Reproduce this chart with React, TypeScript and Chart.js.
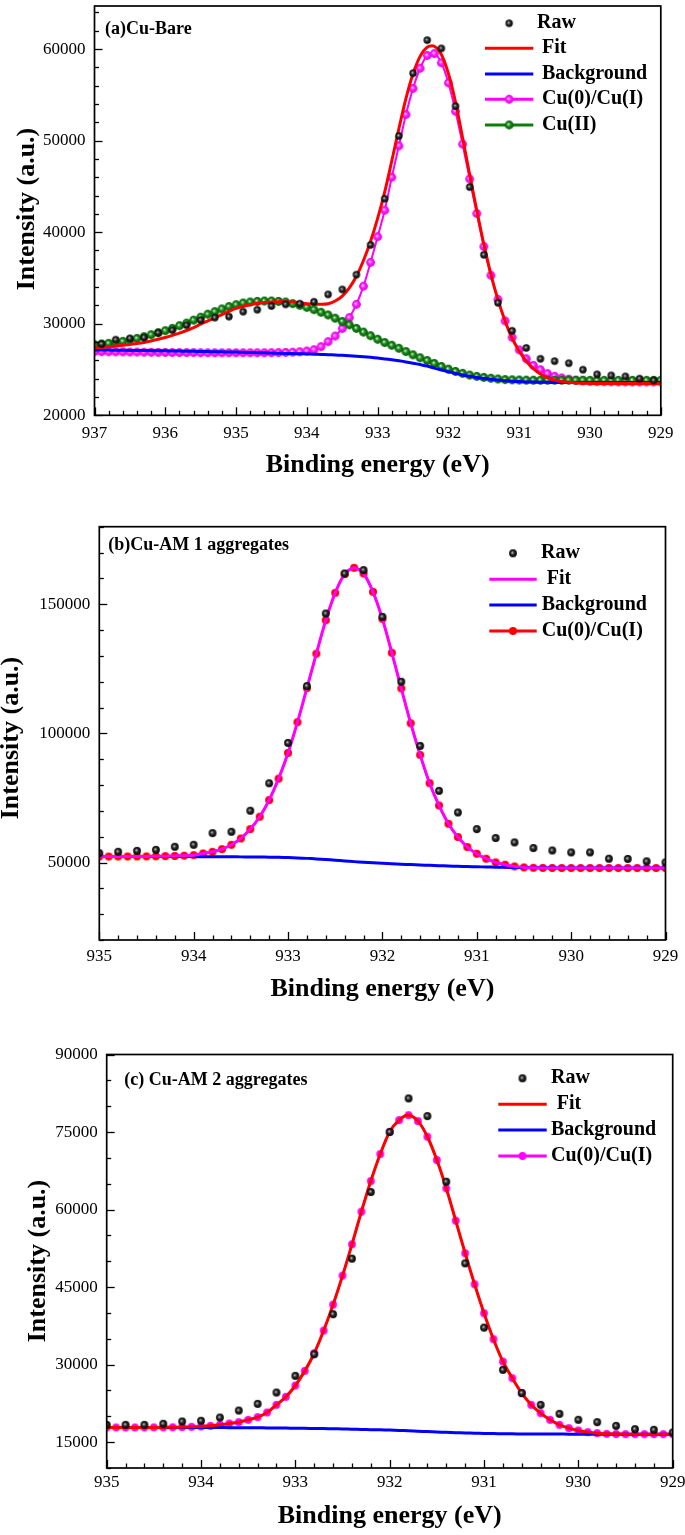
import React, { useEffect, useRef } from 'react';
import { Chart, registerables } from 'chart.js';
Chart.register(...registerables);

const SERIF = '"Times New Roman", "Liberation Serif", serif';
const W = 685;

// ---------------- (a) Cu-Bare ----------------
// fitted curves sampled every 0.1 eV from 937.0 down to 929.0
const curveStartA = 937.0;
// raw data every 0.2 eV from 936.9 down to 929.1
const rawStartA = 936.9;
const rawA = [27790, 28260, 28400, 28500, 29010, 29300, 29840, 30390, 30670, 30780,
  31320, 31530, 31930, 32120, 32190, 32400, 33200, 33740, 35360, 38610,
  43650, 50510, 57360, 60970, 60070, 53760, 44920, 37530, 32290, 29230,
  27360, 26170, 25910, 25690, 24980, 24470, 24360, 24250, 24000, 23820];
const fitA = [27360, 27420, 27490, 27560, 27640, 27720, 27830, 27960, 28120, 28300,
  28500, 28730, 28980, 29260, 29580, 29950, 30300, 30650, 31000, 31350,
  31680, 31900, 32080, 32230, 32310, 32370, 32400, 32390, 32370, 32290,
  32190, 32130, 32120, 32190, 32480, 33020, 33920, 35180, 36900, 39000,
  41500, 44400, 47800, 51300, 54600, 57300, 59200, 60200, 60300, 59400,
  57300, 54200, 50300, 46300, 42400, 38700, 35400, 32600, 30300, 28400,
  27000, 25900, 25100, 24500, 24100, 23850, 23700, 23600, 23540, 23510,
  23490, 23480, 23480, 23470, 23470, 23460, 23460, 23460, 23460, 23460,
  23460];
const backgroundA = [27140, 27130, 27120, 27110, 27100, 27090, 27080, 27070, 27060, 27050,
  27040, 27030, 27010, 27000, 26990, 26970, 26960, 26940, 26930, 26910,
  26900, 26880, 26860, 26840, 26820, 26800, 26780, 26760, 26740, 26720,
  26700, 26680, 26650, 26620, 26590, 26550, 26510, 26460, 26400, 26330,
  26250, 26160, 26060, 25950, 25830, 25690, 25540, 25380, 25150, 24950,
  24760, 24580, 24410, 24260, 24130, 24020, 23930, 23850, 23780, 23720,
  23680, 23650, 23630, 23610, 23600, 23590, 23580, 23580, 23580, 23580,
  23580, 23580, 23580, 23580, 23580, 23580, 23580, 23580, 23580, 23580,
  23580];
const cu0A = [26960, 26950, 26940, 26930, 26920, 26910, 26900, 26890, 26880, 26870,
  26860, 26850, 26850, 26840, 26840, 26830, 26830, 26820, 26820, 26820,
  26820, 26820, 26820, 26820, 26820, 26830, 26840, 26860, 26890, 26940,
  27020, 27160, 27500, 28040, 28660, 29480, 30670, 32120, 34100, 36700,
  39500, 42400, 46000, 49430, 52850, 55700, 57900, 59300, 59500, 58500,
  56300, 53200, 49610, 45820, 42040, 38430, 35290, 32660, 30310, 28510,
  27140, 26170, 25450, 24980, 24550, 24260, 24080, 23940, 23820, 23750,
  23700, 23680, 23670, 23660, 23650, 23650, 23640, 23640, 23640, 23640,
  23640];
const cu2A = [27715, 27790, 27860, 27970, 28080, 28220, 28400, 28580, 28800, 29020,
  29240, 29490, 29780, 30060, 30390, 30710, 31040, 31320, 31610, 31870,
  32080, 32260, 32370, 32440, 32480, 32480, 32440, 32370, 32190, 32010,
  31790, 31540, 31250, 30960, 30600, 30240, 29880, 29490, 29090, 28690,
  28300, 27950, 27650, 27320, 26960, 26600, 26280, 25980, 25660, 25330,
  25040, 24790, 24580, 24390, 24250, 24140, 24040, 23960, 23900, 23870,
  23850, 23840, 23830, 23830, 23830, 23830, 23830, 23830, 23830, 23830,
  23820, 23820, 23820, 23820, 23820, 23820, 23820, 23820, 23820, 23820,
  23820];
const xTicksA = [937, 936, 935, 934, 933, 932, 931, 930, 929];
const yTicksA = [20000, 30000, 40000, 50000, 60000];

// ---------------- (b) Cu-AM 1 aggregates ----------------
const curveStartB = 935.0; // 0.1 eV grid
const rawStartB = 935.0;   // 0.2 eV grid
const rawB = [53620, 54140, 54520, 54910, 56080, 56850, 61380, 61900, 70050, 80660,
  96310, 118300, 146380, 161900, 163200, 145100, 119980, 95130, 77740, 69370,
  62940, 59470, 57770, 55600, 54670, 53900, 53900, 51470, 51400, 50440, 50040];
const cu0B = [52325, 52325, 52330, 52340, 52350, 52370, 52400, 52450, 52530, 52650,
  52840, 53490, 54140, 55170, 56850, 59310, 62930, 67720, 74190, 82470,
  92430, 104330, 117530, 130850, 143790, 154400, 161640, 164100, 161900, 154790,
  144310, 131180, 117410, 103900, 91650, 80720, 72080, 65000, 59850, 55990,
  53400, 51470, 50040, 49150, 48500, 48100, 47950, 47900, 47880, 47870,
  47870, 47870, 47870, 47870, 47870, 47870, 47870, 47870, 47870, 47870,
  47870];
const fitB = cu0B; // single-component fit coincides with the component
const backgroundB = [52330, 52330, 52330, 52330, 52320, 52320, 52310, 52310, 52300, 52290,
  52280, 52270, 52250, 52230, 52210, 52180, 52150, 52110, 52060, 51990,
  51900, 51780, 51600, 51400, 51150, 50900, 50620, 50340, 50080, 49880,
  49700, 49520, 49350, 49190, 49040, 48900, 48770, 48650, 48540, 48440,
  48350, 48270, 48200, 48140, 48090, 48040, 48000, 47960, 47930, 47910,
  47890, 47880, 47870, 47870, 47870, 47870, 47870, 47870, 47870, 47870,
  47870];
const xTicksB = [935, 934, 933, 932, 931, 930, 929];
const yTicksB = [50000, 100000, 150000];

// ---------------- (c) Cu-AM 2 aggregates ----------------
const curveStartC = 935.0;
const rawStartC = 935.0;
const rawC = [18350, 18350, 18350, 18550, 19000, 19130, 19770, 21120, 22410, 24600,
  27830, 32000, 39750, 50500, 63390, 75000, 81500, 78080, 65390, 49600,
  37170, 28990, 24500, 22220, 20480, 19330, 18870, 18160, 17520, 17400, 16870];
const cu0C = [17840, 17840, 17840, 17840, 17840, 17850, 17860, 17880, 17910, 17960,
  18030, 18160, 18350, 18610, 18870, 19320, 19840, 20740, 22220, 23770,
  25960, 28790, 32200, 36590, 41610, 47220, 53270, 59590, 65520, 70740,
  75050, 77310, 78270, 77110, 74090, 69580, 64100, 57850, 51540, 45540,
  39940, 34910, 30600, 27370, 24470, 22220, 20610, 19320, 18350, 17710,
  17260, 16940, 16740, 16610, 16570, 16550, 16550, 16550, 16550, 16550,
  16550];
const fitC = cu0C;
const backgroundC = [17840, 17840, 17840, 17840, 17840, 17840, 17840, 17840, 17840, 17830,
  17830, 17820, 17820, 17810, 17800, 17790, 17780, 17760, 17740, 17720,
  17700, 17680, 17650, 17620, 17590, 17550, 17510, 17470, 17420, 17380,
  17340, 17270, 17200, 17120, 17040, 16970, 16900, 16840, 16780, 16730,
  16690, 16660, 16630, 16610, 16590, 16580, 16570, 16560, 16560, 16550,
  16550, 16550, 16550, 16550, 16550, 16550, 16550, 16550, 16550, 16550,
  16550];
const xTicksC = [935, 934, 933, 932, 931, 930, 929];
const yTicksC = [15000, 30000, 45000, 60000, 75000, 90000];

// ---------------- helpers ----------------
const pts = (start: number, step: number, vals: number[]) =>
  vals.map((v, i) => ({ x: +(start - i * step).toFixed(2), y: v }));

function makeBall(r: number, light: string, mid: string, dark: string) {
  const s = Math.ceil(r * 2) + 2;
  const c = document.createElement('canvas');
  c.width = s; c.height = s;
  const g = c.getContext('2d')!;
  const cx = s / 2, cy = s / 2;
  const grad = g.createRadialGradient(cx - r * 0.2, cy - r * 0.2, r * 0.05, cx, cy, r);
  grad.addColorStop(0, light);
  grad.addColorStop(0.4, mid);
  grad.addColorStop(1, dark);
  g.fillStyle = grad;
  g.beginPath(); g.arc(cx, cy, r, 0, Math.PI * 2); g.fill();
  return c;
}
function makeDot(r: number, color: string) {
  const s = Math.ceil(r * 2) + 2;
  const c = document.createElement('canvas');
  c.width = s; c.height = s;
  const g = c.getContext('2d')!;
  g.fillStyle = color;
  g.beginPath(); g.arc(s / 2, s / 2, r, 0, Math.PI * 2); g.fill();
  return c;
}

const RED = '#ff0000', BLUE = '#0000ff', MAGENTA = '#ff00ff', GREEN = '#0a800a';

type LegendItem = { text: string; tx: number; kind: 'point' | 'line' | 'linepoint'; color?: string; sprite?: HTMLCanvasElement };

function buildPanels() {
  const blackA = makeBall(3.7, '#c8c8c8', '#303030', '#000');
  const pinkA = makeBall(4.4, '#ffd8ff', '#ff22ff', '#e000e0');
  const greenA = makeBall(4.4, '#d8f2d8', '#1e8c1e', '#005a00');
  const blackB = makeBall(3.9, '#c8c8c8', '#303030', '#000');
  const redB = makeDot(4.0, RED);
  const magC = makeDot(3.9, MAGENTA);

  const line = (label: string, data: any[], color: string, order: number) => ({
    label, data, showLine: true, borderColor: color, backgroundColor: color,
    borderWidth: 3, pointRadius: 0, tension: 0.3, order,
  });
  const beads = (label: string, data: any[], color: string, sprite: HTMLCanvasElement, order: number) => ({
    label, data, showLine: true, borderColor: color, backgroundColor: color,
    borderWidth: 2, pointStyle: sprite, pointRadius: 4, tension: 0.3, order,
  });
  const dots = (label: string, data: any[], sprite: HTMLCanvasElement, order: number) => ({
    label, data, showLine: false, pointStyle: sprite, pointRadius: 3.8, order,
    borderColor: '#000', backgroundColor: '#000',
  });

  return [
    {
      top: 0, height: 500,
      area: { left: 94.5, right: 660.8, top: 2.7, bottom: 415.3 },
      xMin: 929, xMax: 937, yMin: 20000, yMax: 64700,
      xTicks: xTicksA, yTicks: yTicksA, yMinor: 2000, xLabelPad: 7.8,
      datasets: [
        dots('Raw', pts(rawStartA, 0.2, rawA), blackA, 0),
        line('Fit', pts(curveStartA, 0.1, fitA), RED, 1),
        line('Background', pts(curveStartA, 0.1, backgroundA), BLUE, 2),
        beads('Cu(II)', pts(curveStartA, 0.1, cu2A), GREEN, greenA, 3),
        beads('Cu(0)/Cu(I)', pts(curveStartA, 0.1, cu0A), MAGENTA, pinkA, 4),
      ],
      label: { text: '(a)Cu-Bare', x: 105, y: 29 },
      legend: {
        rows: [23.3, 48.3, 74, 99.3, 125], x0: 485, x1: 533.3,
        items: [
          { text: 'Raw', tx: 537, kind: 'point', sprite: blackA },
          { text: 'Fit', tx: 542, kind: 'line', color: RED },
          { text: 'Background', tx: 542, kind: 'line', color: BLUE },
          { text: 'Cu(0)/Cu(I)', tx: 542, kind: 'linepoint', color: MAGENTA, sprite: pinkA },
          { text: 'Cu(II)', tx: 542, kind: 'linepoint', color: GREEN, sprite: greenA },
        ] as LegendItem[],
      },
      xTitleY: 465.5, yTitleX: 27, yTitleY: 209,
    },
    {
      top: 500, height: 510,
      area: { left: 99.3, right: 665.5, top: 26.7, bottom: 440 },
      xMin: 929, xMax: 935, yMin: 20000, yMax: 180000,
      xTicks: xTicksB, yTicks: yTicksB, yMinor: 10000, xLabelPad: 6.8,
      datasets: [
        dots('Raw', pts(rawStartB, 0.2, rawB), blackB, 0),
        line('Fit', pts(curveStartB, 0.1, fitB), MAGENTA, 1),
        line('Background', pts(curveStartB, 0.1, backgroundB), BLUE, 2),
        beads('Cu(0)/Cu(I)', pts(curveStartB, 0.1, cu0B), RED, redB, 3),
      ],
      label: { text: '(b)Cu-AM 1 aggregates', x: 108.3, y: 45 },
      legend: {
        rows: [53.3, 79.3, 105, 131], x0: 489.3, x1: 536.7,
        items: [
          { text: 'Raw', tx: 541, kind: 'point', sprite: blackB },
          { text: 'Fit', tx: 546.7, kind: 'line', color: MAGENTA },
          { text: 'Background', tx: 541.7, kind: 'line', color: BLUE },
          { text: 'Cu(0)/Cu(I)', tx: 541.7, kind: 'linepoint', color: RED, sprite: redB },
        ] as LegendItem[],
      },
      xTitleY: 489, yTitleX: 11, yTitleY: 238,
    },
    {
      top: 1010, height: 525,
      area: { left: 106.7, right: 672.7, top: 44.5, bottom: 458 },
      xMin: 929, xMax: 935, yMin: 10000, yMax: 90000,
      xTicks: xTicksC, yTicks: yTicksC, yMinor: 5000, xLabelPad: 4.8,
      datasets: [
        dots('Raw', pts(rawStartC, 0.2, rawC), blackB, 0),
        line('Fit', pts(curveStartC, 0.1, fitC), RED, 1),
        line('Background', pts(curveStartC, 0.1, backgroundC), BLUE, 2),
        beads('Cu(0)/Cu(I)', pts(curveStartC, 0.1, cu0C), MAGENTA, magC, 3),
      ],
      label: { text: '(c) Cu-AM 2 aggregates', x: 124.3, y: 70 },
      legend: {
        rows: [68.3, 94.3, 120, 146], x0: 498.3, x1: 546.7,
        items: [
          { text: 'Raw', tx: 551, kind: 'point', sprite: blackB },
          { text: 'Fit', tx: 556.7, kind: 'line', color: RED },
          { text: 'Background', tx: 551, kind: 'line', color: BLUE },
          { text: 'Cu(0)/Cu(I)', tx: 551, kind: 'linepoint', color: MAGENTA, sprite: magC },
        ] as LegendItem[],
      },
      xTitleY: 506, yTitleX: 38, yTitleY: 251,
    },
  ];
}

function drawDecor(chart: any, p: any) {
  const { ctx, chartArea: ca, scales } = chart;
  const xs = scales.x, ys = scales.y;
  ctx.save();
  ctx.strokeStyle = '#000';
  ctx.lineWidth = 1.3;
  // x ticks (inward)
  const nX = Math.round((p.xMax - p.xMin) / 0.2);
  for (let k = 0; k <= nX; k++) {
    const v = p.xMin + k * 0.2;
    const major = Math.abs(v - Math.round(v)) < 1e-6;
    const px = Math.round(xs.getPixelForValue(v)) + 0.5;
    ctx.beginPath();
    ctx.moveTo(px, ca.bottom);
    ctx.lineTo(px, ca.bottom - (major ? 8 : 4.5));
    ctx.stroke();
  }
  // y ticks (inward)
  const nY = Math.floor((p.yMax - p.yMin) / p.yMinor + 1e-6);
  for (let k = 0; k <= nY; k++) {
    const v = p.yMin + k * p.yMinor;
    const major = p.yTicks.includes(v);
    const py = Math.round(ys.getPixelForValue(v)) + 0.5;
    ctx.beginPath();
    ctx.moveTo(ca.left, py);
    ctx.lineTo(ca.left + (major ? 8 : 4.5), py);
    ctx.stroke();
  }
  // frame
  ctx.lineWidth = 1.7;
  ctx.strokeRect(ca.left, ca.top, ca.right - ca.left, ca.bottom - ca.top);

  // panel label
  ctx.fillStyle = '#000';
  ctx.textBaseline = 'middle';
  ctx.textAlign = 'left';
  ctx.font = `bold 18px ${SERIF}`;
  ctx.fillText(p.label.text, p.label.x, p.label.y);

  // legend
  const lg = p.legend;
  const cx = (lg.x0 + lg.x1) / 2;
  lg.items.forEach((it: LegendItem, i: number) => {
    const y = lg.rows[i];
    if (it.kind !== 'point') {
      ctx.strokeStyle = it.color;
      ctx.lineWidth = 3;
      ctx.beginPath(); ctx.moveTo(lg.x0, y); ctx.lineTo(lg.x1, y); ctx.stroke();
    }
    if (it.sprite) {
      const s = it.sprite;
      ctx.drawImage(s, cx - s.width / 2, y - s.height / 2);
    }
    ctx.fillStyle = '#000';
    ctx.font = `bold 20px ${SERIF}`;
    ctx.fillText(it.text, it.tx, y);
  });

  // axis titles
  ctx.font = `bold 26px ${SERIF}`;
  ctx.textAlign = 'center';
  ctx.fillText('Binding energy (eV)', (ca.left + ca.right) / 2, p.xTitleY);
  ctx.save();
  ctx.translate(p.yTitleX, p.yTitleY);
  ctx.rotate(-Math.PI / 2);
  ctx.fillText('Intensity (a.u.)', 0, 0);
  ctx.restore();
  ctx.restore();
}

function makeConfig(p: any) {
  const H = p.height;
  return {
    type: 'scatter',
    data: { datasets: p.datasets },
    options: {
      animation: false,
      responsive: false,
      maintainAspectRatio: false,
      events: [],
      layout: { padding: { left: 0, right: W - p.area.right, top: p.area.top, bottom: 0 } },
      plugins: { legend: { display: false }, tooltip: { enabled: false } },
      scales: {
        x: {
          type: 'linear', min: p.xMin, max: p.xMax, reverse: true,
          grid: { display: false, drawTicks: false },
          border: { display: false },
          ticks: {
            autoSkip: false, maxRotation: 0, padding: p.xLabelPad, color: '#000',
            font: { family: SERIF, size: 17 },
            callback: (v: number) => String(v),
          },
          afterBuildTicks: (s: any) => { s.ticks = p.xTicks.map((v: number) => ({ value: v })); },
          afterFit: (s: any) => { s.height = H - p.area.bottom; s.paddingLeft = 0; s.paddingRight = 0; },
        },
        y: {
          type: 'linear', min: p.yMin, max: p.yMax,
          grid: { display: false, drawTicks: false },
          border: { display: false },
          ticks: {
            autoSkip: false, padding: 9, color: '#000',
            font: { family: SERIF, size: 17 },
            callback: (v: number) => String(v),
          },
          afterBuildTicks: (s: any) => { s.ticks = p.yTicks.map((v: number) => ({ value: v })); },
          afterFit: (s: any) => { s.width = p.area.left; s.paddingTop = 0; s.paddingBottom = 0; },
        },
      },
    },
    plugins: [{ id: 'decor', afterDraw: (chart: any) => drawDecor(chart, p) }],
  };
}

function Panel({ index }: { index: number }) {
  const ref = useRef<HTMLCanvasElement | null>(null);
  const heights = [500, 510, 525];
  const tops = [0, 500, 1010];
  useEffect(() => {
    const panels = buildPanels();
    const chart = new Chart(ref.current as HTMLCanvasElement, makeConfig(panels[index]) as any);
    return () => chart.destroy();
  }, [index]);
  return (
    <canvas
      ref={ref}
      width={W}
      height={heights[index]}
      style={{ position: 'absolute', left: 0, top: tops[index], width: W, height: heights[index], display: 'block' }}
    />
  );
}

export default function App() {
  return (
    <div style={{ position: 'absolute', left: 0, top: 0, width: W, height: 1535, background: '#fff' }}>
      <Panel index={0} />
      <Panel index={1} />
      <Panel index={2} />
    </div>
  );
}
